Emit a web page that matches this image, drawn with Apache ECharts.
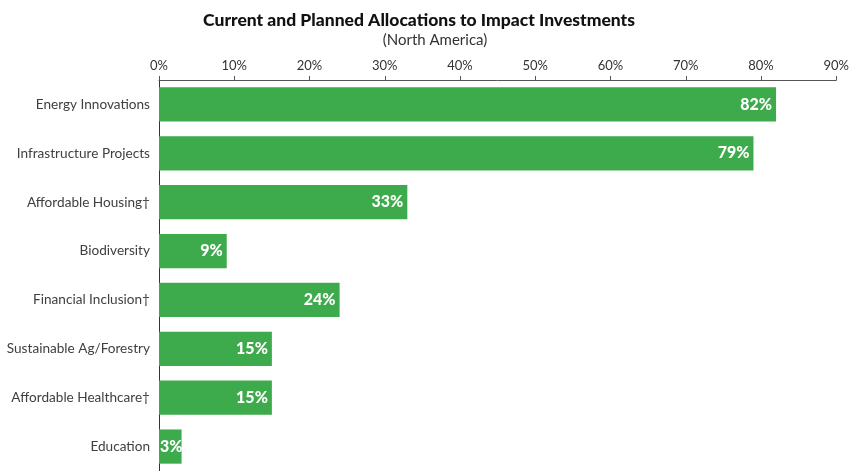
<!DOCTYPE html>
<html>
<head>
<meta charset="utf-8">
<style>
  html, body { margin: 0; padding: 0; background: #ffffff; }
  #chart { width: 852px; height: 471px; }
</style>
<script src="https://cdn.jsdelivr.net/npm/echarts@6/dist/echarts.min.js"></script>
</head>
<body>
<div id="chart"></div>
<script>
// Impact investment categories, top to bottom
const categories = [
  'Energy Innovations',
  'Infrastructure Projects',
  'Affordable Housing\u2020',
  'Biodiversity',
  'Financial Inclusion\u2020',
  'Sustainable Ag/Forestry',
  'Affordable Healthcare\u2020',
  'Education'
];
// Share of respondents with current or planned allocations (%)
const allocations = [82, 79, 33, 9, 24, 15, 15, 3];
// Axis range (%)
const axisMax = 90;
const axisStep = 10;

const FONT = 'Lato, "Noto Sans", sans-serif';

// Very short bars get their label pinned to the left end instead
const barData = allocations.map(v => v < 5
  ? { value: v, label: { position: 'insideLeft', distance: 1 } }
  : v);

const chart = echarts.init(document.getElementById('chart'), null, { renderer: 'canvas' });
chart.setOption({
  animation: false,
  backgroundColor: '#ffffff',
  title: [
    {
      text: 'Current and Planned Allocations to Impact Investments',
      left: 414, top: 6, textAlign: 'center',
      textStyle: { fontFamily: FONT, fontWeight: 900, fontSize: 17.5, color: '#111111' }
    },
    {
      text: '(North America)',
      left: 430, top: 28, textAlign: 'center',
      textStyle: { fontFamily: FONT, fontWeight: 'normal', fontSize: 15, color: '#333333' }
    }
  ],
  grid: { left: 159, right: 11, top: 80, bottom: -2, containLabel: false },
  xAxis: {
    type: 'value',
    position: 'top',
    min: 0, max: axisMax, interval: axisStep,
    axisLine: { show: true, lineStyle: { color: '#555555', width: 1 } },
    axisTick: { show: true, length: 4, lineStyle: { color: '#555555' } },
    splitLine: { show: false },
    axisLabel: {
      formatter: '{value}%', margin: 8,
      fontFamily: FONT, fontSize: 13, color: '#333333'
    }
  },
  yAxis: {
    type: 'category',
    data: categories,
    inverse: true,
    axisLine: { show: true, lineStyle: { color: '#333333', width: 1 } },
    axisTick: { show: false },
    axisLabel: { margin: 9, fontFamily: FONT, fontSize: 13.6, color: '#404040' }
  },
  series: [{
    type: 'bar',
    data: barData,
    barCategoryGap: '30%',
    itemStyle: { color: '#3daa4b' },
    label: {
      show: true,
      position: 'insideRight',
      distance: 4,
      formatter: '{c}%',
      fontFamily: FONT, fontWeight: 900, fontSize: 16, color: '#ffffff'
    }
  }]
});
</script>
</body>
</html>
